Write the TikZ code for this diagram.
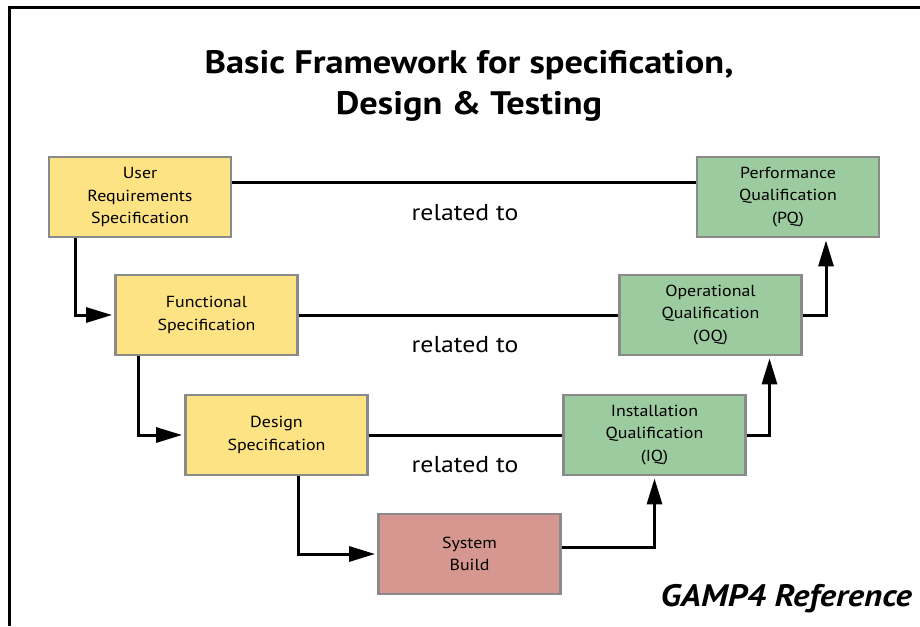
\documentclass[tikz,border=0pt]{standalone}
\usepackage{fontspec}
\setmainfont[FakeStretch=1.12]{PT Sans}
\usetikzlibrary{arrows.meta}

\definecolor{specyellow}{HTML}{FDE384}
\definecolor{qualgreen}{HTML}{9DCBA0}
\definecolor{buildred}{HTML}{D69791}
\definecolor{boxgray}{HTML}{8A8A8A}

\begin{document}
\begin{tikzpicture}[x=1pt,y=-1pt,
      stage/.style={draw=boxgray, line width=2.8pt, minimum width=182pt,
        minimum height=80pt, inner sep=0pt, align=center,
        font=\fontsize{16}{22.5}\selectfont},
      spec/.style={stage, fill=specyellow},
      qual/.style={stage, fill=qualgreen},
      build/.style={stage, fill=buildred},
      link/.style={line width=3pt},
      flow/.style={line width=3pt, -{Triangle[length=26pt,width=15pt]},
        shorten >=2pt},
      rel/.style={font=\fontsize{23}{25}\selectfont}
      ]
      \useasboundingbox (0,0) rectangle (920,626);
      \draw[line width=3pt] (9,626) -- (9,8) -- (920,8);

      \node[align=center, font=\fontsize{32.5}{41}\bfseries\selectfont] (title) at (469,86)
        {Basic Framework for specification,\\Design \& Testing};

      % left leg
      \node[spec] (urs) at (140,197) {User\\Requirements\\Specification};
      \node[spec] (fs) at (206.5,315) {Functional\\Specification};
      \node[spec] (ds) at (276.5,435) {Design\\Specification};
      % bottom
      \node[build] (sb) at (469.5,554) {System\\Build};
      % right leg
      \node[qual] (iq) at (654.5,435) {Installation\\Qualification\\(IQ)};
      \node[qual] (oq) at (710.5,315) {Operational\\Qualification\\(OQ)};
      \node[qual] (pq) at (788,197) {Performance\\Qualification\\(PQ)};

      \draw[link] ([yshift=15pt]urs.east) -- ([yshift=15pt]pq.west);
      \draw[link] (fs) -- (oq);
      \draw[link] (ds) -- (iq);

      \node[rel] (rel1) at (465,213) {related to};
      \node[rel] (rel2) at (465,345) {related to};
      \node[rel] (rel3) at (465,465) {related to};

      \draw[flow] ([xshift=28pt]urs.south west) |- (fs.west);
      \draw[flow] ([xshift=24pt]fs.south west) |- (ds.west);
      \draw[flow] ([xshift=114pt]ds.south west) |- (sb.west);
      \draw[flow] ([yshift=7pt]sb.east) -| (iq.south);
      \draw[flow] (iq.east) -| ([xshift=59pt]oq.south);
      \draw[flow] (oq.east) -| ([xshift=38pt]pq.south);

      \node[anchor=east, inner sep=0pt, font=\fontsize{31}{32}\bfseries\itshape\selectfont]
        (gamp) at (912,599) {GAMP4 Reference};
\end{tikzpicture}
\end{document}
